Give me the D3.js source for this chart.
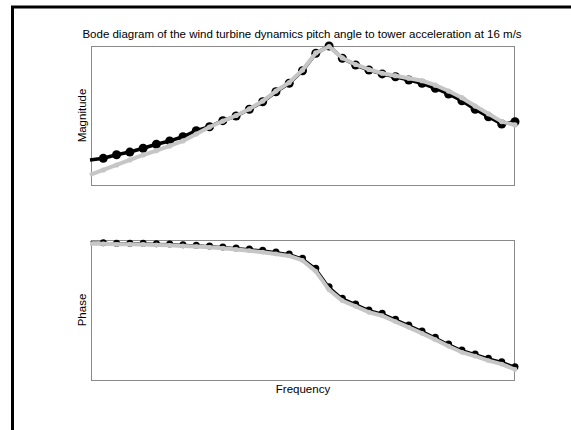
<!DOCTYPE html>
<html>
<head>
<meta charset="utf-8">
<script src="https://cdn.jsdelivr.net/npm/d3@7"></script>
<style>
  body { margin: 0; background: #fff; }
  text { font-family: "Liberation Sans", Arial, sans-serif; fill: #000; }
</style>
</head>
<body id="viz">
<script>
// frequency sample index (no tick labels on the axis)
var freq = [0, 1, 2, 3, 4, 5, 6, 7, 8, 9, 10, 11, 12, 13, 14, 15, 16,
            17, 18, 19, 20, 21, 22, 23, 24, 25, 26, 27, 28, 29, 30, 31, 32]

// magnitude, normalised 0..100 inside the box
var magModel = [18.0, 19.2, 21.8, 23.7, 26.4, 29.3, 31.7, 34.7, 39.1, 41.9, 46.3,
                49.6, 54.5, 59.9, 67.1, 73.2, 82.2, 94.7, 100, 91.2, 86.3, 82.7,
                79.9, 77.9, 75.5, 73.2, 69.6, 65.5, 60.6, 54.5, 49.1, 43.9, 45.5]
var magFit = [7.2, 10.8, 14.4, 18.0, 21.6, 24.7, 28.1, 31.7, 36.7, 41.7, 46.0,
              50.0, 54.7, 60.4, 67.6, 73.7, 82.7, 95.0, 99.6, 91.4, 86.7, 83.1,
              80.4, 78.6, 76.8, 75.0, 71.8, 67.6, 62.8, 56.8, 51.2, 45.6, 43.2]

// phase, normalised 0..100 inside the box
var phaseModel = [98.2, 98.1, 97.6, 97.6, 97.6, 97.4, 97.1, 96.6, 96.2, 95.7, 95.0,
                  94.3, 93.6, 92.6, 91.4, 90.0, 86.9, 79.8, 66.6, 58.4, 54.3, 50.0,
                  47.6, 43.4, 39.3, 35.0, 30.5, 25.7, 21.4, 18.6, 15.5, 13.1, 9.5]
var phaseFit = [97.4, 97.3, 96.9, 96.9, 96.8, 96.5, 96.2, 95.7, 95.3, 94.8, 94.1,
                93.2, 92.4, 91.3, 90.0, 88.6, 85.4, 77.6, 64.4, 56.6, 52.6, 48.4,
                45.9, 41.7, 37.6, 33.3, 28.8, 24.1, 19.8, 17.0, 13.8, 11.3, 7.5]

var title = "Bode diagram of the wind turbine dynamics pitch angle to tower acceleration at 16 m/s"

// layout
var W = 571, H = 430
var box_left = 91, box_right = 514
var mag_top = 46, mag_bottom = 185
var ph_top = 240, ph_bottom = 380

var gray = "#c6c6c6"

svg = d3.select("body#viz")
  .append("svg")
  .attr("width", W)
  .attr("height", H)

// figure frame (only left and top edges are inside the window)
svg.append("rect")
  .attr("x", 12.5).attr("y", 7)
  .attr("width", W + 20).attr("height", H + 20)
  .attr("fill", "none")
  .attr("stroke", "#000")
  .attr("stroke-width", 3)

var x = d3.scaleLinear()
  .domain([freq[0], freq[freq.length - 1]])
  .range([90, 515])

var yMag = d3.scaleLinear().domain([0, 100]).range([mag_bottom, mag_top])
var yPh = d3.scaleLinear().domain([0, 100]).range([ph_bottom, ph_top])

function drawPanel(top, bottom, yScale, model, fit, blackW, blackR, grayW, grayR) {
  // axes box
  svg.append("rect")
    .attr("x", box_left + 0.5).attr("y", top + 0.5)
    .attr("width", box_right - box_left).attr("height", bottom - top)
    .attr("fill", "none")
    .attr("stroke", "#8a8a8a")
    .attr("stroke-width", 1)

  var line = function(vals) {
    return d3.line()
      .x(function(d, i) { return x(freq[i]) })
      .y(function(d) { return yScale(d) })(vals)
  }

  // black series
  svg.append("path")
    .attr("d", line(model))
    .style("fill", "none")
    .style("stroke", "#000")
    .style("stroke-width", blackW)
    .style("stroke-linejoin", "round")

  svg.append("g").selectAll("circle")
    .data(model.slice(1))
    .enter().append("circle")
      .attr("cx", function(d, i) { return x(freq[i + 1]) })
      .attr("cy", function(d) { return yScale(d) })
      .attr("r", blackR)
      .attr("fill", "#000")

  // gray series on top
  svg.append("path")
    .attr("d", line(fit))
    .style("fill", "none")
    .style("stroke", gray)
    .style("stroke-width", grayW)
    .style("stroke-linejoin", "round")

  svg.append("g").selectAll("circle")
    .data(fit.slice(1))
    .enter().append("circle")
      .attr("cx", function(d, i) { return x(freq[i + 1]) })
      .attr("cy", function(d) { return yScale(d) })
      .attr("r", grayR)
      .attr("fill", gray)
}

drawPanel(mag_top, mag_bottom, yMag, magModel, magFit, 3.5, 4.5, 4, 2.6)
drawPanel(ph_top, ph_bottom, yPh, phaseModel, phaseFit, 2, 3.5, 4, 2.4)

// Title
svg.append("text")
  .attr("x", 302)
  .attr("y", 38)
  .attr("text-anchor", "middle")
  .style("font-size", "11.5px")
  .text(title)

// axis labels
svg.append("text")
  .attr("transform", "translate(86," + ((mag_top + mag_bottom) / 2) + ") rotate(-90)")
  .attr("text-anchor", "middle")
  .style("font-size", "11.5px")
  .text("Magnitude")

svg.append("text")
  .attr("transform", "translate(86," + ((ph_top + ph_bottom) / 2) + ") rotate(-90)")
  .attr("text-anchor", "middle")
  .style("font-size", "11.5px")
  .text("Phase")

svg.append("text")
  .attr("x", 303)
  .attr("y", 393)
  .attr("text-anchor", "middle")
  .style("font-size", "11.5px")
  .text("Frequency")
</script>
</body>
</html>
